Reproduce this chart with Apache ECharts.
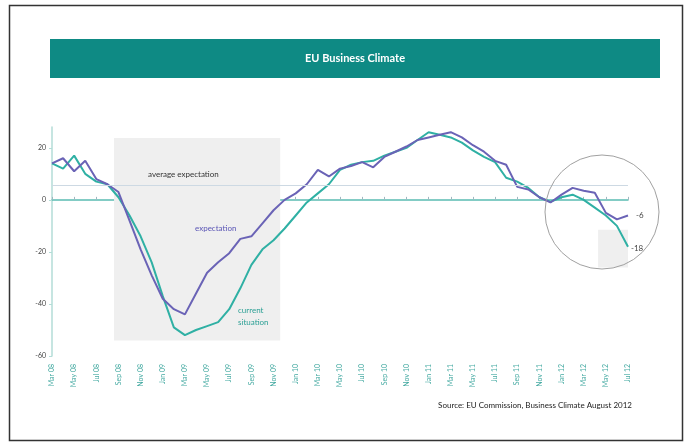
<!DOCTYPE html>
<html><head><meta charset="utf-8">
<script src="https://cdn.jsdelivr.net/npm/echarts@6/dist/echarts.min.js"></script>
<style>html,body{margin:0;padding:0;background:#fff}#c{width:692px;height:448px}</style>
</head><body><div id="c"></div>
<script>
var months = ["Mar 08","Apr 08","May 08","Jun 08","Jul 08","Aug 08","Sep 08","Oct 08","Nov 08","Dec 08",
"Jan 09","Feb 09","Mar 09","Apr 09","May 09","Jun 09","Jul 09","Aug 09","Sep 09","Oct 09","Nov 09","Dec 09",
"Jan 10","Feb 10","Mar 10","Apr 10","May 10","Jun 10","Jul 10","Aug 10","Sep 10","Oct 10","Nov 10","Dec 10",
"Jan 11","Feb 11","Mar 11","Apr 11","May 11","Jun 11","Jul 11","Aug 11","Sep 11","Oct 11","Nov 11","Dec 11",
"Jan 12","Feb 12","Mar 12","Apr 12","May 12","Jun 12","Jul 12"];
var expectation = [14,16,11,15,8,6,3,-8,-19,-29,-38,-42,-44,-36,-28,-24,-20.5,-15,-14,-9,-4,0,2.5,6,11.5,9,12,13,14.5,12.5,16.5,18.5,20.5,23,24,25,26,24,21,18.5,15,13.5,5,4,1,-1,2,4.6,3.5,2.7,-5,-7.5,-6];
var current = [14,12,17,10,7,6,1,-6,-14,-24,-37,-49,-52,-50,-48.5,-47,-42,-34,-25,-19,-15.5,-11,-6,-1,2.5,6,11.5,13.5,14.5,15,17,18.5,20,23,26,25,24,22,19,16.5,14.5,8.5,7,4.6,1,-0.8,1,2,0,-3,-6,-10,-18];
var averageExpectation = 5.8;
var yTicks = {min:-60, max:28, interval:20};
// shaded periods, in month-index units (fractional) and value units
var recessionBox = {from:5.6, to:20.6, top:23.8, bottom:-54};
var latestBox = {from:49.3, to:52, top:-11.5, bottom:-26};

var FONT = 'Lato';
var chart = echarts.init(document.getElementById('c'), null, {renderer:'canvas'});
chart.setOption({
  animation:false,
  textStyle:{fontFamily:FONT},
  grid:{left:52, right:64, top:127, bottom:92},
  xAxis:[{
    type:'category', data:months, boundaryGap:false, position:'bottom',
    axisLine:{show:false, onZero:false}, axisTick:{show:false},
    axisLabel:{interval:1, rotate:90, fontSize:7, color:'#45aaa2', margin:8, fontFamily:FONT}
  },{
    type:'category', data:months, boundaryGap:false, position:'top',
    axisLine:{show:true, onZero:true, lineStyle:{color:'#5bbcb2', width:1.5}},
    axisTick:{show:true, interval:1, length:3, inside:false, lineStyle:{color:'#9fb8c0'}},
    axisLabel:{show:false}
  },{
    type:'value', min:0, max:months.length-1, show:false
  }],
  yAxis:{
    type:'value', min:yTicks.min, max:yTicks.max, interval:yTicks.interval,
    axisLine:{show:true, lineStyle:{color:'#b3ddd7', width:1.5}},
    axisTick:{show:true, length:3, lineStyle:{color:'#b3ddd7'}},
    splitLine:{show:false},
    axisLabel:{fontSize:7, color:'#444', margin:6, showMaxLabel:false, fontFamily:FONT}
  },
  series:[{
    name:'shading', type:'line', xAxisIndex:2, data:[], z:1,
    markArea:{silent:true, itemStyle:{color:'#efefef'}, data:[
      [{xAxis:recessionBox.from, yAxis:recessionBox.top},{xAxis:recessionBox.to, yAxis:recessionBox.bottom}],
      [{xAxis:latestBox.from, yAxis:latestBox.top},{xAxis:latestBox.to, yAxis:latestBox.bottom}]
    ]},
    markLine:{silent:true, symbol:'none', label:{show:false},
      lineStyle:{color:'#cdd9e3', width:1, type:'solid'},
      data:[{yAxis:averageExpectation}]}
  },{
    name:'current situation', type:'line', data:current, showSymbol:false, z:3,
    lineStyle:{color:'#2fb0a4', width:2}, itemStyle:{color:'#2fb0a4'},
    endLabel:{show:true, formatter:'{c}', fontSize:8, color:'#444', distance:3, offset:[0,2]}
  },{
    name:'expectation', type:'line', data:expectation, showSymbol:false, z:4,
    lineStyle:{color:'#6a63b6', width:2}, itemStyle:{color:'#6a63b6'},
    endLabel:{show:true, formatter:'{c}', fontSize:8, color:'#444', distance:8}
  }],
  graphic:[
    {type:'rect', shape:{x:9.5, y:5.5, width:673, height:435}, style:{fill:'none', stroke:'#333', lineWidth:1.5}, z:-1},
    {type:'rect', shape:{x:50, y:39, width:610, height:39}, style:{fill:'#0e8a84'}},
    {type:'text', x:355, y:58, style:{text:'EU Business Climate', fill:'#fff', font:'bold 11px Lato', textAlign:'center', textVerticalAlign:'middle'}},
    {type:'text', x:148, y:174, style:{text:'average expectation', fill:'#333', font:'8px Lato', textVerticalAlign:'middle'}, z:10},
    {type:'text', x:195, y:228, style:{text:'expectation', fill:'#5a55b5', font:'8px Lato', textVerticalAlign:'middle'}, z:10},
    {type:'text', x:238, y:310, style:{text:'current', fill:'#2a9f94', font:'8px Lato', textVerticalAlign:'middle'}, z:10},
    {type:'text', x:238, y:322, style:{text:'situation', fill:'#2a9f94', font:'8px Lato', textVerticalAlign:'middle'}, z:10},
    {type:'circle', shape:{cx:602, cy:212, r:57}, style:{fill:'none', stroke:'#a0a0a0', lineWidth:1}, z:10},
    {type:'text', x:632, y:405, style:{text:'Source: EU Commission, Business Climate August 2012', fill:'#222', font:'8px Lato', textAlign:'right', textVerticalAlign:'middle'}}
  ]
});
</script></body></html>
